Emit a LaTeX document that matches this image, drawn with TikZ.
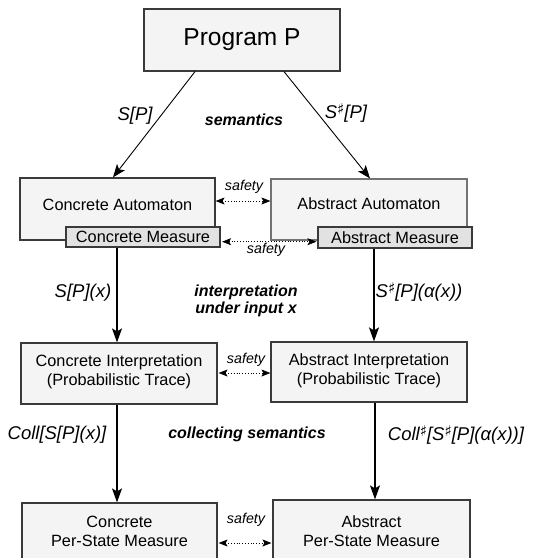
\documentclass[tikz,border=0pt]{standalone}
\usepackage{fontspec}
\setmainfont{Liberation Sans}
\newfontfamily\dejavu{DejaVu Sans}
\usetikzlibrary{arrows.meta}
\definecolor{boxfill}{HTML}{F4F4F4}
\definecolor{measfill}{HTML}{E2E2E2}
\definecolor{boxline}{HTML}{3A3A3A}
\newcommand{\shp}{\raisebox{0.22em}{\dejavu\upshape\fontsize{15}{15}\selectfont ♯}}
\tikzset{
  box/.style={draw=boxline, line width=1.2pt, fill=boxfill, inner sep=0pt, anchor=center},
  meas/.style={draw=boxline, line width=1.2pt, fill=measfill, inner sep=0pt, anchor=center, font=\fontsize{16.3}{18}\selectfont},
  boxtext/.style={inner sep=0pt, align=center, font=\fontsize{16.3}{19}\selectfont},
  lab/.style={inner sep=0pt, font=\fontsize{18.5}{20}\selectfont\itshape},
  sem/.style={inner sep=0pt, align=center, font=\fontsize{16}{16.5}\selectfont\bfseries\itshape},
  saf/.style={inner sep=0pt, font=\fontsize{14.3}{15}\selectfont\itshape},
  diag/.style={line width=0.9pt, -{Stealth[length=13pt,width=10pt,inset=3pt]}},
  vert/.style={line width=1.5pt, -{Stealth[length=14pt,width=10pt,inset=3pt]}},
  safarrow/.style={line width=0.8pt, dotted, {Stealth[length=9pt,width=7pt,inset=2pt]}-{Stealth[length=9pt,width=7pt,inset=2pt]}}
}
\begin{document}
\begin{tikzpicture}[x=1pt,y=-1pt]
\clip (0,0) rectangle (536,558);
% boxes
\node[box, minimum width=196pt, minimum height=62pt, font=\fontsize{24.5}{26}\selectfont] (prog) at (242,40) {Program P};
\node[box, minimum width=195pt, minimum height=62pt] (ca) at (117.5,209) {};
\node[box, minimum width=196pt, minimum height=61pt, draw=gray!90!black] (aa) at (369,209.5) {};
\node[boxtext] (catext) at (117.5,205) {Concrete Automaton};
\node[boxtext] (aatext) at (369,204) {Abstract Automaton};
\node[meas, minimum width=154pt, minimum height=20pt] (cm) at (143,237) {Concrete Measure};
\node[meas, minimum width=154pt, minimum height=21pt] (am) at (395,237.5) {Abstract Measure};
\node[box, minimum width=196pt, minimum height=61pt] (ci) at (119,373.5) {};
\node[box, minimum width=196pt, minimum height=60pt] (ai) at (369,372) {};
\node[boxtext] (citext) at (119,371.5) {Concrete Interpretation\\(Probabilistic Trace)};
\node[boxtext] (aitext) at (369,371) {Abstract Interpretation\\(Probabilistic Trace)};
\node[box, minimum width=195pt, minimum height=67pt] (cp) at (119.5,536.5) {};
\node[box, minimum width=197pt, minimum height=70pt] (ap) at (371.5,535) {};
\node[boxtext] (cptext) at (119.5,531) {Concrete\\Per-State Measure};
\node[boxtext] (aptext) at (371.5,531) {Abstract\\Per-State Measure};
% main arrows
\draw[diag] ([xshift=-47pt]prog.south) -- ([xshift=-4.5pt]ca.north);
\draw[diag] ([xshift=42pt]prog.south) -- ([xshift=1pt]aa.north);
\draw[vert] ([xshift=-26pt]cm.south) -- ([xshift=-2pt]ci.north);
\draw[vert] ([xshift=-21pt]am.south) -- ([xshift=5pt]ai.north);
\draw[vert] ([xshift=-2pt]ci.south) -- ([xshift=-2.5pt]cp.north);
\draw[vert] ([xshift=6pt]ai.south) -- ([xshift=3.5pt]ap.north);
% safety arrows
\draw[safarrow] ([yshift=8pt]ca.east) -- ([yshift=8.5pt]aa.west);
\draw[safarrow] ([xshift=1.5pt,yshift=-4.7pt]cm.east) -- ([xshift=-1pt,yshift=-4.2pt]am.west);
\draw[safarrow] ([xshift=1pt,yshift=0.5pt]ci.east) -- ([yshift=-1pt]ai.west);
\draw[safarrow] ([xshift=1pt,yshift=-6.5pt]cp.east) -- ([xshift=-1pt,yshift=-8pt]ap.west);
\node[saf] (s1) at (244,187) {safety};
\node[saf] (s2) at (266,250) {safety};
\node[saf] (s3) at (246,360) {safety};
\node[saf] (s4) at (246,520) {safety};
% labels
\node[lab] (l1) at (135,116) {S[P]};
\node[lab] (l2) at (346,113) {S\shp[P]};
\node[sem] (m1) at (244,120) {semantics};
\node[lab] (l3) at (83,293) {S[P](x)};
\node[lab] (l4) at (419,292) {S\shp[P](α(x))};
\node[sem] (m2) at (246,301) {interpretation\\under input x};
\node[lab] (l5) at (57,435) {Coll[S[P](x)]};
\node[lab] (l6) at (456,435) {Coll\shp[S\shp[P](α(x))]};
\node[sem] (m3) at (247,434) {collecting semantics};
\end{tikzpicture}
\end{document}
